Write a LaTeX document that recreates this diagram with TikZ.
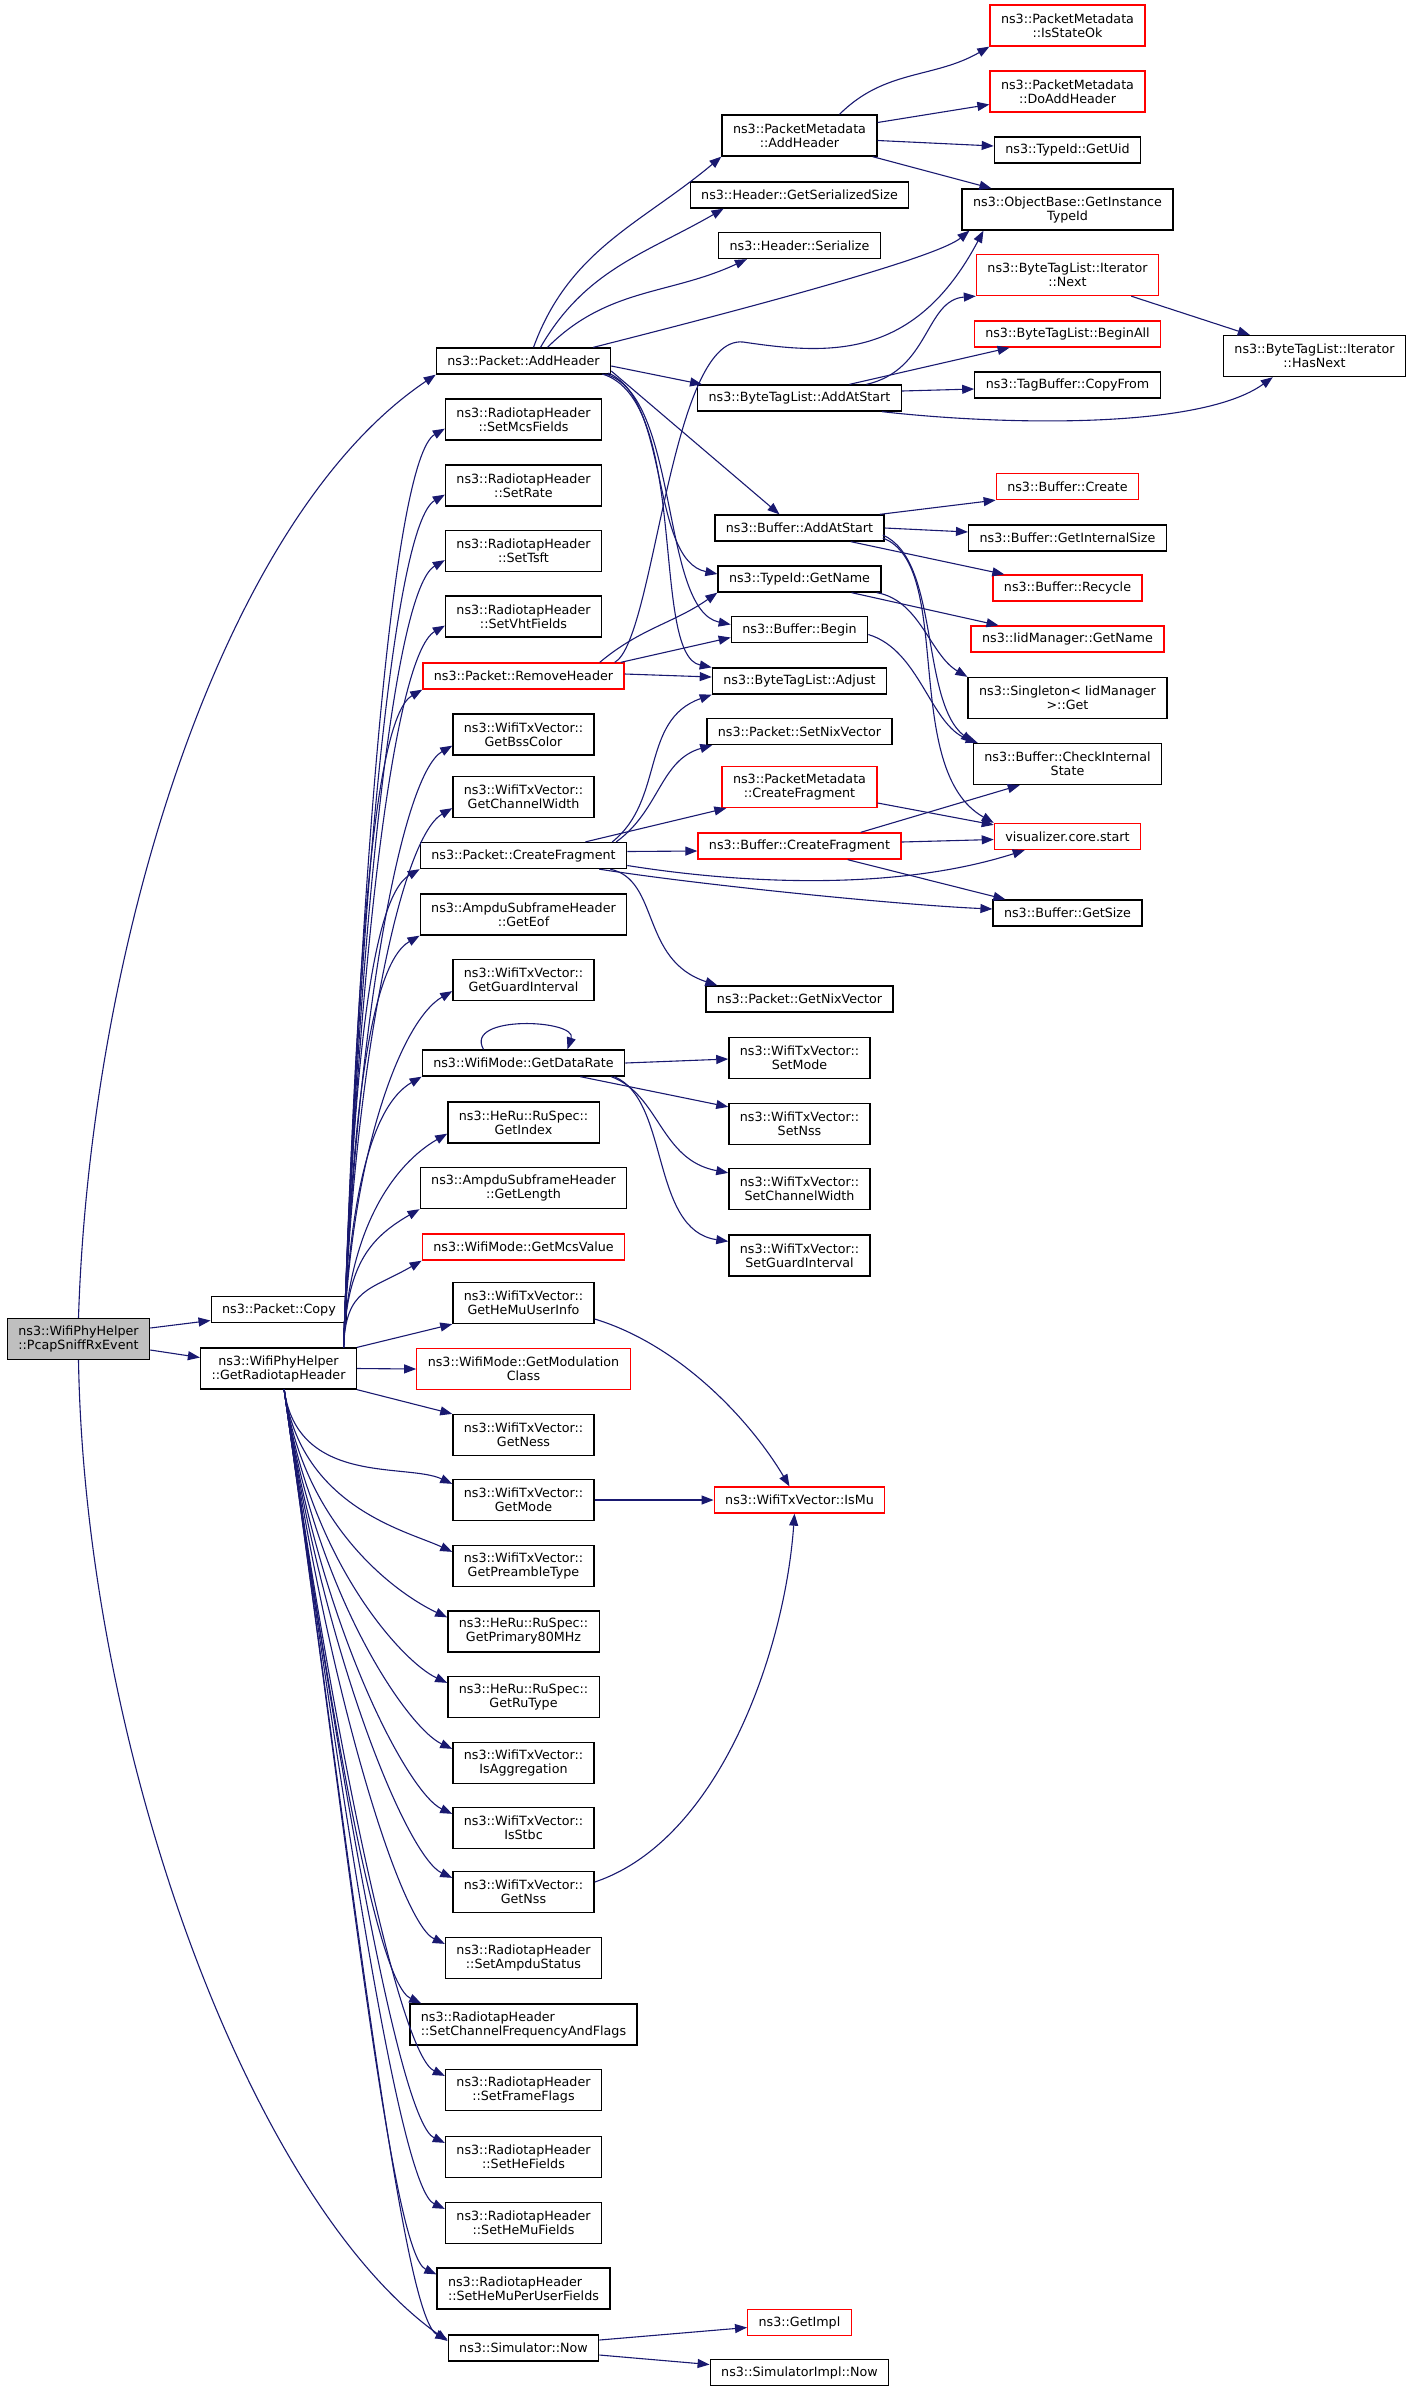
\documentclass[tikz,border=0pt]{standalone}
\usepackage{fontspec}
\setmainfont{DejaVu Sans}
\usepackage{tikz}
\usetikzlibrary{arrows.meta,calc}
\definecolor{linkblue}{HTML}{191970}
\definecolor{rootgray}{HTML}{BFBFBF}
\newcommand{\fnfont}{\fontsize{12.7}{14}\selectfont}
\tikzset{
  fn/.style={draw=black, line width=1.3pt, fill=white, rectangle, inner xsep=11pt, inner ysep=2pt, minimum height=26pt, font=\fnfont, align=center},
  fnn/.style={fn, minimum height=41pt},
  fnred/.style={fn, draw=red},
  fnnred/.style={fnn, draw=red},
  link/.style={->, draw=linkblue, line width=1.1pt},
  fanup/.style={link, out=88, in=210, out looseness=1.3, in distance=60pt},
  fandn/.style={link, out=-82, in=155, out looseness=1.3, in distance=50pt}
}

\begin{document}
\begin{tikzpicture}[x=1pt, y=1pt, >={Triangle[length=12pt,width=9pt]}]
\useasboundingbox (0,0) rectangle (1407,-2386);

% caller and first level
\node[fnn, fill=rootgray] (root) at (78.5,-1339) {ns3::WifiPhyHelper\\::PcapSniffRxEvent};
\node[fn] (copy) at (279,-1309.5) {ns3::Packet::Copy};
\node[fnn] (rt) at (278.5,-1368.5) {ns3::WifiPhyHelper\\::GetRadiotapHeader};

% second level
\node[fn] (pah) at (523.5,-361) {ns3::Packet::AddHeader};
\node[fnn] (smcs) at (523.5,-419.5) {ns3::RadiotapHeader\\::SetMcsFields};
\node[fnn] (srate) at (523.5,-485.5) {ns3::RadiotapHeader\\::SetRate};
\node[fnn] (stsft) at (523.5,-551) {ns3::RadiotapHeader\\::SetTsft};
\node[fnn] (svht) at (523.5,-616.5) {ns3::RadiotapHeader\\::SetVhtFields};
\node[fnred] (prh) at (523.5,-676) {ns3::Packet::RemoveHeader};
\node[fnn] (bss) at (523.5,-734.5) {ns3::WifiTxVector::\\GetBssColor};
\node[fnn] (gcw) at (523.5,-797) {ns3::WifiTxVector::\\GetChannelWidth};
\node[fn] (pcf) at (523.5,-855.5) {ns3::Packet::CreateFragment};
\node[fnn] (eof) at (523.5,-914.5) {ns3::AmpduSubframeHeader\\::GetEof};
\node[fnn] (ggi) at (523.5,-980) {ns3::WifiTxVector::\\GetGuardInterval};
\node[fn] (gdr) at (523.5,-1063) {ns3::WifiMode::GetDataRate};
\node[fnn] (gidx) at (523.5,-1122.5) {ns3::HeRu::RuSpec::\\GetIndex};
\node[fnn] (glen) at (523.5,-1188) {ns3::AmpduSubframeHeader\\::GetLength};
\node[fnred] (gmcs) at (523.5,-1247) {ns3::WifiMode::GetMcsValue};
\node[fnn] (hemu) at (523.5,-1303) {ns3::WifiTxVector::\\GetHeMuUserInfo};
\node[fnnred] (gmod) at (523.5,-1369) {ns3::WifiMode::GetModulation\\Class};
\node[fnn] (gness) at (523.5,-1435) {ns3::WifiTxVector::\\GetNess};
\node[fnn] (gmode) at (523.5,-1500) {ns3::WifiTxVector::\\GetMode};
\node[fnn] (gpre) at (523.5,-1566) {ns3::WifiTxVector::\\GetPreambleType};
\node[fnn] (gp80) at (523.5,-1631.5) {ns3::HeRu::RuSpec::\\GetPrimary80MHz};
\node[fnn] (gru) at (523.5,-1697) {ns3::HeRu::RuSpec::\\GetRuType};
\node[fnn] (iagg) at (523.5,-1763) {ns3::WifiTxVector::\\IsAggregation};
\node[fnn] (istbc) at (523.5,-1828) {ns3::WifiTxVector::\\IsStbc};
\node[fnn] (gnss) at (523.5,-1892) {ns3::WifiTxVector::\\GetNss};
\node[fnn] (sampdu) at (523.5,-1958) {ns3::RadiotapHeader\\::SetAmpduStatus};
\node[fnn, align=left] (scf) at (523.5,-2024.5) {ns3::RadiotapHeader\\::SetChannelFrequencyAndFlags};
\node[fnn] (sff) at (523.5,-2090) {ns3::RadiotapHeader\\::SetFrameFlags};
\node[fnn] (shef) at (523.5,-2157) {ns3::RadiotapHeader\\::SetHeFields};
\node[fnn] (shemu) at (523.5,-2223) {ns3::RadiotapHeader\\::SetHeMuFields};
\node[fnn, align=left] (shemup) at (523.5,-2288.5) {ns3::RadiotapHeader\\::SetHeMuPerUserFields};
\node[fn] (snow) at (523.5,-2348) {ns3::Simulator::Now};

% third level
\node[fnn] (pmah) at (799.5,-135.5) {ns3::PacketMetadata\\::AddHeader};
\node[fn] (gss) at (799.5,-195) {ns3::Header::GetSerializedSize};
\node[fn] (hser) at (799.5,-245.5) {ns3::Header::Serialize};
\node[fn] (btas) at (799.5,-398) {ns3::ByteTagList::AddAtStart};
\node[fn] (bas) at (799.5,-528) {ns3::Buffer::AddAtStart};
\node[fn] (tgn) at (799.5,-579) {ns3::TypeId::GetName};
\node[fn] (bbeg) at (799.5,-629.5) {ns3::Buffer::Begin};
\node[fn] (btadj) at (799.5,-681) {ns3::ByteTagList::Adjust};
\node[fn] (snix) at (799.5,-731.5) {ns3::Packet::SetNixVector};
\node[fnnred] (pmcf) at (799.5,-787) {ns3::PacketMetadata\\::CreateFragment};
\node[fnred] (bcf) at (799.5,-846) {ns3::Buffer::CreateFragment};
\node[fn] (gnix) at (799.5,-999) {ns3::Packet::GetNixVector};
\node[fnn] (smode) at (799.5,-1058) {ns3::WifiTxVector::\\SetMode};
\node[fnn] (snss) at (799.5,-1124) {ns3::WifiTxVector::\\SetNss};
\node[fnn] (scw) at (799.5,-1189) {ns3::WifiTxVector::\\SetChannelWidth};
\node[fnn] (sgi) at (799.5,-1255.5) {ns3::WifiTxVector::\\SetGuardInterval};
\node[fnred] (ismu) at (799.5,-1500) {ns3::WifiTxVector::IsMu};
\node[fnred] (gimpl) at (799.5,-2322.5) {ns3::GetImpl};
\node[fn] (simpl) at (799.5,-2372.5) {ns3::SimulatorImpl::Now};

% fourth level
\node[fnnred] (iso) at (1067.5,-25.5) {ns3::PacketMetadata\\::IsStateOk};
\node[fnnred] (dah) at (1067.5,-91.5) {ns3::PacketMetadata\\::DoAddHeader};
\node[fn] (guid) at (1067.5,-150) {ns3::TypeId::GetUid};
\node[fnn] (gitid) at (1067.5,-209.5) {ns3::ObjectBase::GetInstance\\TypeId};
\node[fnnred] (itn) at (1067.5,-275) {ns3::ByteTagList::Iterator\\::Next};
\node[fnred] (ball) at (1067.5,-334) {ns3::ByteTagList::BeginAll};
\node[fn] (cpf) at (1067.5,-385) {ns3::TagBuffer::CopyFrom};
\node[fnred] (bcr) at (1067.5,-486.5) {ns3::Buffer::Create};
\node[fn] (gis) at (1067.5,-538) {ns3::Buffer::GetInternalSize};
\node[fnred] (brec) at (1067.5,-588) {ns3::Buffer::Recycle};
\node[fnred] (iid) at (1067.5,-639) {ns3::IidManager::GetName};
\node[fnn] (sgl) at (1067.5,-698) {ns3::Singleton< IidManager\\>::Get};
\node[fnn] (cis) at (1067.5,-764) {ns3::Buffer::CheckInternal\\State};
\node[fnred] (vis) at (1067.5,-836.5) {visualizer.core.start};
\node[fn] (gsz) at (1067.5,-913) {ns3::Buffer::GetSize};
\node[fnn] (hasn) at (1314.5,-356) {ns3::ByteTagList::Iterator\\::HasNext};

% calls of the caller
\draw[link] (root.north) .. controls (90,-950) and (220,-520) .. (pah.south west);
\draw[link] ($(root.east)+(0,11)$) -- ($(copy.west)+(0,-11)$);
\draw[link] ($(root.east)+(0,-11)$) -- ($(rt.west)+(0,11)$);
\draw[link] (root.south) .. controls (85,-1750) and (250,-2200) .. ($(snow.west)+(0,7)$);

% GetRadiotapHeader, upwards
\draw[fanup] (rt.18) to ($(smcs.south west)+(0,12)$);
\draw[fanup] (rt.18) to ($(srate.south west)+(0,12)$);
\draw[fanup] (rt.18) to ($(stsft.south west)+(0,12)$);
\draw[fanup] (rt.18) to ($(svht.south west)+(0,12)$);
\draw[fanup] (rt.18) to (prh.south west);
\draw[fanup] (rt.18) to ($(bss.south west)+(0,10)$);
\draw[fanup] (rt.18) to ($(gcw.south west)+(0,10)$);
\draw[fanup] (rt.18) to (pcf.south west);
\draw[fanup] (rt.18) to (eof.south west);
\draw[fanup] (rt.18) to ($(ggi.south west)+(0,10)$);
\draw[fanup] (rt.18) to (gdr.south west);
\draw[fanup] (rt.18) to ($(gidx.south west)+(0,10)$);
\draw[fanup] (rt.18) to (glen.south west);
\draw[fanup] (rt.18) to (gmcs.south west);
\draw[link] (rt.north east) -- (hemu.south west);
\draw[link] (rt.east) -- (gmod.west);

% GetRadiotapHeader, downwards
\draw[link] (rt.south east) -- (gness.north west);
\draw[fandn] (rt.-75) to ($(gmode.north west)+(0,-5)$);
\draw[fandn] (rt.-75) to ($(gpre.north west)+(0,-7)$);
\draw[fandn] (rt.-75) to ($(gp80.north west)+(0,-7)$);
\draw[fandn] (rt.-75) to ($(gru.north west)+(0,-7)$);
\draw[fandn] (rt.-75) to ($(iagg.north west)+(0,-7)$);
\draw[fandn] (rt.-75) to ($(istbc.north west)+(0,-7)$);
\draw[fandn] (rt.-75) to ($(gnss.north west)+(0,-7)$);
\draw[fandn] (rt.-75) to ($(sampdu.north west)+(0,-7)$);
\draw[fandn] (rt.-75) to ($(scf.north west)+(12,0)$);
\draw[fandn] (rt.-75) to ($(sff.north west)+(0,-7)$);
\draw[fandn] (rt.-75) to ($(shef.north west)+(0,-7)$);
\draw[fandn] (rt.-75) to ($(shemu.north west)+(0,-7)$);
\draw[fandn] (rt.-75) to ($(shemup.north west)+(0,-7)$);
\draw[fandn] (rt.-75) to ($(snow.north west)+(0,-5)$);

% Packet::AddHeader
\draw[link] ($(pah.north)+(10,0)$) to[out=70,in=220] (pmah.south west);
\draw[link] ($(pah.north)+(17,0)$) to[out=60,in=210] ($(gss.south west)+(34,0)$);
\draw[link] ($(pah.north)+(24,0)$) to[out=45,in=205] ($(hser.south west)+(29,0)$);
\draw[link] ($(pah.north east)+(-18,0)$) .. controls (800,-295) and (940,-255) .. ($(gitid.south west)+(8,0)$);
\draw[link] ($(pah.east)+(0,-5)$) -- ($(btas.north west)+(5,0)$);
\draw[link] ($(pah.east)+(0,-10)$) -- ($(bas.north)+(-20,0)$);
\draw[link] ($(pah.east)+(-3,-12)$) .. controls (670,-400) and (650,-560) .. ($(tgn.west)+(0,5)$);
\draw[link] ($(pah.east)+(-6,-13)$) .. controls (680,-395) and (660,-610) .. ($(bbeg.west)+(0,5)$);
\draw[link] ($(pah.east)+(-9,-13)$) .. controls (690,-400) and (650,-655) .. (btadj.north west);

% PacketMetadata::AddHeader
\draw[link] ($(pmah.north)+(40,0)$) to[out=45,in=210] (iso.south west);
\draw[link] ($(pmah.east)+(0,13)$) -- ($(dah.west)+(0,-13)$);
\draw[link] ($(pmah.east)+(0,-5)$) -- ($(guid.west)+(0,4)$);
\draw[link] ($(pmah.south east)+(-5,0)$) -- ($(gitid.north west)+(30,0)$);

% ByteTagList::AddAtStart
\draw[link] ($(btas.north)+(67,0)$) .. controls (930,-370) and (925,-300) .. (itn.south west);
\draw[link] ($(btas.north)+(50,0)$) -- ($(ball.south west)+(36,0)$);
\draw[link] ($(btas.east)+(0,7)$) -- ($(cpf.west)+(0,-4)$);
\draw[link] ($(btas.south east)+(-20,0)$) .. controls (1000,-425) and (1200,-430) .. ($(hasn.south west)+(50,0)$);
\draw[link] ($(itn.south east)+(-28,0)$) -- ($(hasn.north west)+(27,0)$);

% Buffer::AddAtStart
\draw[link] ($(bas.north east)+(-5,0)$) -- (bcr.south west);
\draw[link] (bas.east) -- ($(gis.west)+(0,6)$);
\draw[link] ($(bas.south east)+(-34,0)$) -- ($(brec.north west)+(12,0)$);
\draw[link] ($(bas.east)+(-2,-7)$) .. controls (940,-560) and (920,-700) .. (cis.north west);
\draw[link] ($(bas.east)+(-2,-10)$) .. controls (955,-565) and (900,-770) .. (vis.north west);

% TypeId::GetName, Buffer::Begin
\draw[link] ($(tgn.south east)+(-30,0)$) -- ($(iid.north west)+(28,0)$);
\draw[link] ($(tgn.south east)+(-5,0)$) .. controls (920,-600) and (930,-655) .. (sgl.north west);
\draw[link] ($(bbeg.east)+(0,-5)$) .. controls (920,-650) and (930,-725) .. ($(cis.north west)+(5,0)$);

% Packet::RemoveHeader
\draw[link] ($(prh.north east)+(-10,0)$) .. controls (655,-640) and (670,-335) .. (743,-342) .. controls (830,-355) and (915,-360) .. ($(gitid.south west)+(22,0)$);
\draw[link] ($(prh.north east)+(-25,0)$) to[out=40,in=215] (tgn.south west);
\draw[link] ($(prh.north east)+(-4,0)$) -- ($(bbeg.west)+(0,-8)$);
\draw[link] ($(prh.east)+(0,2)$) -- ($(btadj.west)+(0,4)$);

% Packet::CreateFragment
\draw[link] ($(pcf.north east)+(-15,0)$) .. controls (665,-800) and (640,-720) .. (btadj.south west);
\draw[link] ($(pcf.north east)+(-11,0)$) .. controls (660,-810) and (660,-760) .. ($(snix.south west)+(6,0)$);
\draw[link] ($(pcf.north)+(62,0)$) -- ($(pmcf.south west)+(5,0)$);
\draw[link] ($(pcf.east)+(0,4)$) -- ($(bcf.west)+(0,-5)$);
\draw[link] ($(pcf.east)+(0,-10)$) .. controls (750,-885) and (900,-890) .. ($(vis.south west)+(31,0)$);
\draw[link] ($(pcf.south east)+(-28,0)$) .. controls (700,-885) and (900,-905) .. ($(gsz.west)+(0,4)$);
\draw[link] ($(pcf.south east)+(-17,0)$) .. controls (660,-880) and (640,-960) .. ($(gnix.north west)+(12,0)$);
\draw[link] ($(pmcf.east)+(0,-16)$) -- ($(vis.north west)+(0,-2)$);
\draw[link] ($(bcf.north east)+(-41,0)$) -- ($(cis.south west)+(47,0)$);
\draw[link] ($(bcf.east)+(0,4)$) -- ($(vis.west)+(0,-3)$);
\draw[link] ($(bcf.south east)+(-54,0)$) -- ($(gsz.north west)+(13,0)$);

% WifiMode::GetDataRate
\draw[link] ($(gdr.north)+(-40,0)$) .. controls +(-20,35) and +(10,30) .. ($(gdr.north)+(44,0)$);
\draw[link] (gdr.east) -- ($(smode.west)+(0,-1)$);
\draw[link] ($(gdr.south east)+(-45,0)$) -- ($(snss.north west)+(0,-4)$);
\draw[link] ($(gdr.south east)+(-14,0)$) .. controls (660,-1095) and (660,-1160) .. ($(scw.north west)+(0,-5)$);
\draw[link] ($(gdr.south east)+(-11,0)$) .. controls (670,-1100) and (650,-1230) .. ($(sgi.north west)+(0,-7)$);

% WifiTxVector::IsMu
\draw[link] ($(hemu.east)+(0,-16)$) .. controls (680,-1345) and (750,-1420) .. ($(ismu.north)+(-10,0)$);
\draw[link] (gmode.east) -- (ismu.west);
\draw[link] ($(gnss.east)+(0,10)$) .. controls (720,-1840) and (785,-1650) .. ($(ismu.south)+(-5,0)$);

% Simulator::Now
\draw[link] ($(snow.east)+(0,8)$) -- ($(gimpl.west)+(0,-5)$);
\draw[link] ($(snow.east)+(0,-7)$) -- ($(simpl.west)+(0,8)$);
\end{tikzpicture}
\end{document}
